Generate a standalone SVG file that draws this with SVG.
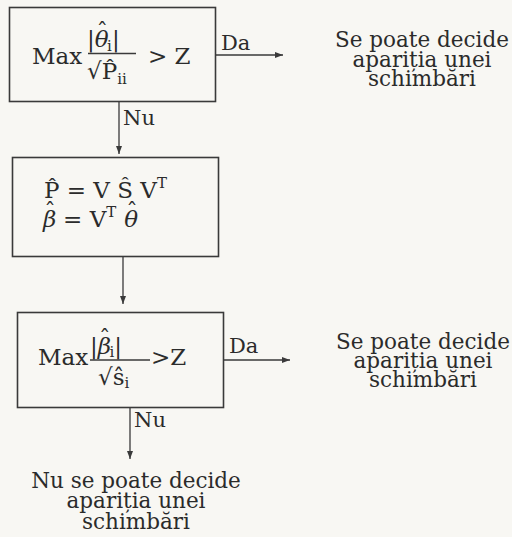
<svg xmlns="http://www.w3.org/2000/svg" width="512" height="537" viewBox="0 0 512 537">
<style>
text{font-family:"DejaVu Serif","Liberation Serif",serif;fill:#2b2b2b}
.m{font-size:23px}
.s{font-size:15px}
.l{font-size:21px}
.c{font-size:21.5px;text-anchor:middle}
.it{font-style:italic}
.box{fill:none;stroke:#3a3a3a;stroke-width:1.6}
.ln{fill:none;stroke:#3a3a3a;stroke-width:1.3}
</style>
<defs>
<marker id="ah" viewBox="0 0 8 6" refX="8" refY="3" markerWidth="8" markerHeight="6" markerUnits="userSpaceOnUse" orient="auto">
<path d="M0,0 L8,3 L0,6 Z" fill="#3a3a3a"/>
</marker>
</defs>
<rect width="512" height="537" fill="#f8f7f3"/>

<g id="box1">
<rect class="box" x="9.5" y="7.5" width="206" height="94"/>
<text class="m" x="32" y="64">Max</text>
<text class="m" x="87" y="47">|<tspan class="it">θ</tspan><tspan dx="-12" dy="-8">ˆ</tspan><tspan class="s" dx="-1" dy="12">i</tspan><tspan dy="-4">|</tspan></text>
<line class="ln" x1="88" y1="53.5" x2="136" y2="53.5"/>
<text class="m" x="87" y="79">√P̂<tspan class="s" dy="5">ii</tspan></text>
<text class="m" x="148" y="64">&gt; Z</text>
</g>

<g id="yes1">
<text class="c" x="422" y="47">Se poate decide</text>
<text class="c" x="422" y="67">apariția unei</text>
<text class="c" x="422" y="86">schimbări</text>
</g>

<g id="box2">
<rect class="box" x="12.5" y="157.5" width="206" height="99"/>
<text class="m" x="44" y="198">P̂ = V Ŝ V<tspan class="s" dy="-10">T</tspan></text>
<text class="m" x="43" y="227"><tspan class="it">β</tspan><tspan dx="-12" dy="-8">ˆ</tspan><tspan dy="8"> = V</tspan><tspan class="s" dy="-10">T</tspan><tspan class="it" dx="8" dy="10">θ</tspan><tspan dx="-12" dy="-8">ˆ</tspan></text>
</g>

<g id="box3">
<rect class="box" x="17.5" y="312.5" width="206" height="95"/>
<text class="m" x="38" y="365">Max</text>
<text class="m" x="90" y="354">|<tspan class="it">β</tspan><tspan dx="-12" dy="-8">ˆ</tspan><tspan class="s" dx="-1" dy="11">i</tspan><tspan dy="-3">|</tspan></text>
<line class="ln" x1="90" y1="360" x2="150" y2="360"/>
<text class="m" x="98" y="385">√ŝ<tspan class="s" dy="3">i</tspan></text>
<text class="m" x="151" y="365">&gt;Z</text>
</g>

<g id="yes2">
<text class="c" x="423" y="349">Se poate decide</text>
<text class="c" x="423" y="368">apariția unei</text>
<text class="c" x="423" y="387">schimbări</text>
</g>

<g id="no">
<text class="c" x="136" y="488">Nu se poate decide</text>
<text class="c" x="136" y="508">apariția unei</text>
<text class="c" x="136" y="529">schimbări</text>
</g>

<g id="connectors">
<line class="ln" x1="215.5" y1="55" x2="283" y2="55" marker-end="url(#ah)"/>
<text class="l" x="221" y="50">Da</text>
<line class="ln" x1="119" y1="101.5" x2="119" y2="154" marker-end="url(#ah)"/>
<text class="l" x="123" y="125">Nu</text>
<line class="ln" x1="123" y1="256.5" x2="123" y2="304" marker-end="url(#ah)"/>
<line class="ln" x1="223.5" y1="360" x2="290" y2="360" marker-end="url(#ah)"/>
<text class="l" x="229" y="353">Da</text>
<line class="ln" x1="130" y1="407.5" x2="130" y2="459" marker-end="url(#ah)"/>
<text class="l" x="134" y="427">Nu</text>
</g>
</svg>
